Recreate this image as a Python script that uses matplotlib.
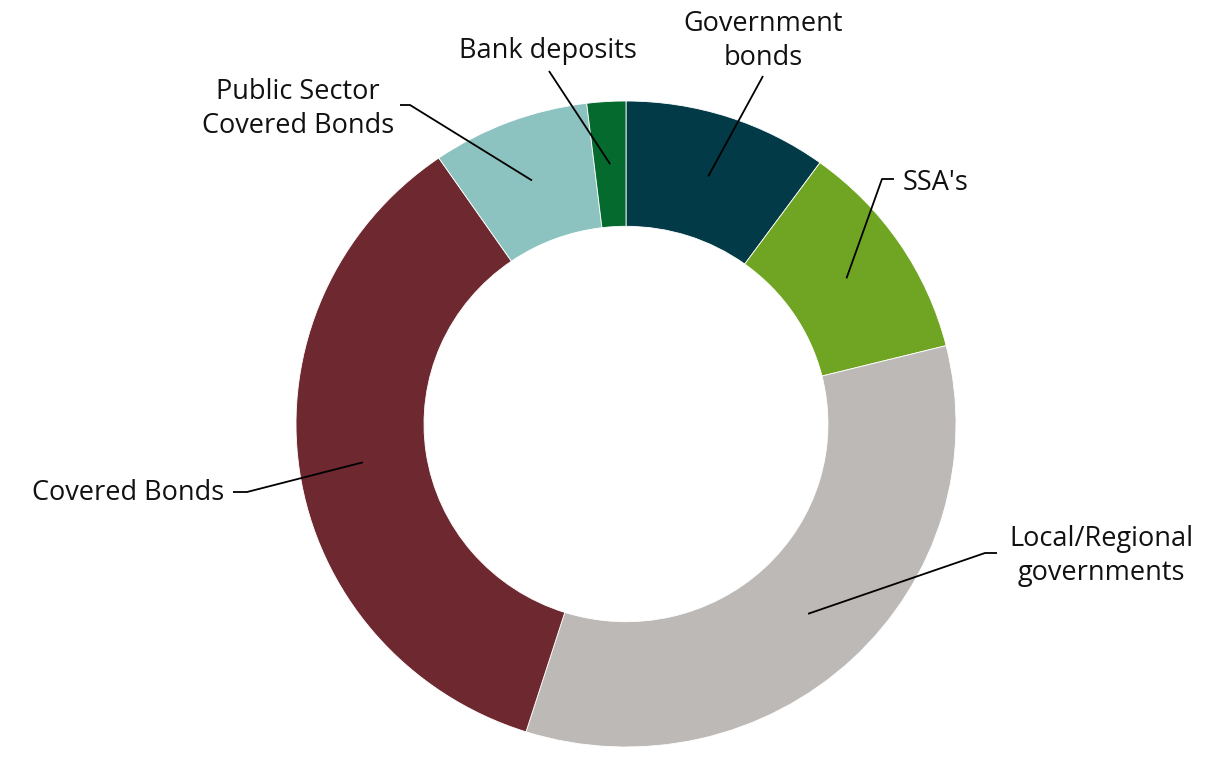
import numpy as np
import matplotlib.pyplot as plt

# portfolio breakdown (share in %)
labels = ["Government\nbonds", "SSA's", "Local/Regional\ngovernments",
          "Covered Bonds", "Public Sector\nCovered Bonds", "Bank deposits"]
shares = [10.0, 11.1, 33.8, 35.5, 7.7, 1.9]
colors = ["#023a47", "#70a523", "#bcb9b6", "#6e2830", "#8cc3c0", "#056a2e"]

W, H = 1221, 758
k = 330 / 323  # the original is slightly squashed vertically


def px(x, y):
    # pixel coords (y down) -> axes data coords (y up)
    return x, (H - y) * k


fig = plt.figure(figsize=(W / 100, H / 100), dpi=100)
ax = fig.add_axes([0, 0, 1, 1])

center = px(626, 424)
r_out = 330
ring = 128
wedges, _ = ax.pie(shares, colors=colors, startangle=90, counterclock=False,
                   center=center, radius=r_out, frame=True,
                   wedgeprops=dict(width=ring, edgecolor="white", linewidth=0.6))
ax.set_aspect("auto")
ax.set_xlim(0, W)
ax.set_ylim(0, H * k)
ax.axis("off")

# leader line elbows and text placement (pixel coords)
layout = [
    ([(763, 76)], (763, 41), "center"),
    ([(882, 179), (894, 179)], (903, 183), "left"),
    ([(985, 553), (997, 553)], (1101, 556), "center"),
    ([(247, 492), (233, 492)], (224, 493), "right"),
    ([(410, 105), (400, 105)], (298, 109), "center"),
    ([(549, 71)], (548, 51), "center"),
]

r_mid = r_out - ring / 2
for w, lab, (elbows, txy, ha) in zip(wedges, labels, layout):
    ang = np.deg2rad((w.theta1 + w.theta2) / 2)
    x0 = center[0] + r_mid * np.cos(ang)
    y0 = center[1] + r_mid * np.sin(ang)
    pts = [(x0, y0)] + [px(*p) for p in elbows]
    ax.plot([p[0] for p in pts], [p[1] for p in pts], color="black", lw=1.3,
            solid_capstyle="butt")
    ax.text(*px(*txy), lab, ha=ha, va="center", fontsize=19.5,
            family="Open Sans", color="#111111", linespacing=1.28)

fig.savefig("out.png", dpi=100)
